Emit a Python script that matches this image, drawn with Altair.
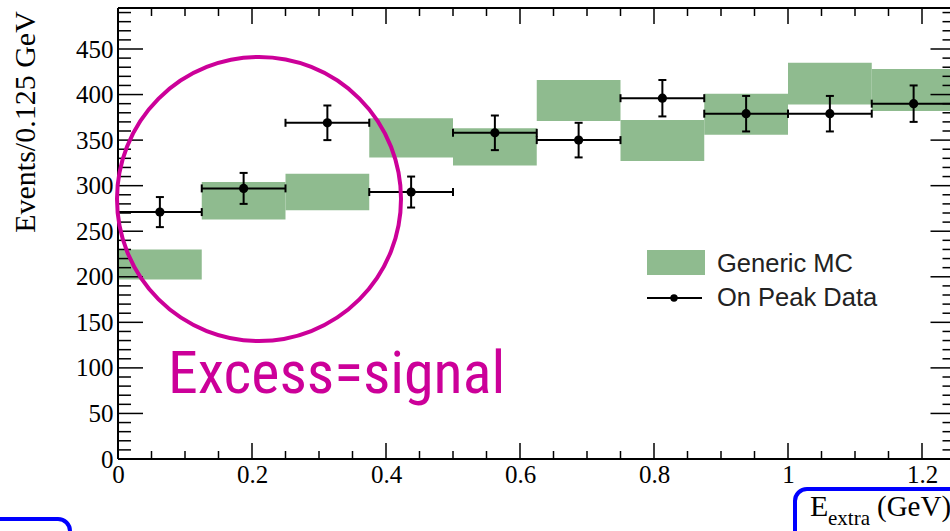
import altair as alt
import pandas as pd

# ---- data ----
bin_lo = [0.0, 0.125, 0.25, 0.375, 0.5, 0.625, 0.75, 0.875, 1.0, 1.125]
bin_hi = [0.125, 0.25, 0.375, 0.5, 0.625, 0.75, 0.875, 1.0, 1.125, 1.25]
mc_low = [197, 263, 273, 331, 322, 371, 327, 356, 389, 382]
mc_high = [230, 304, 313, 374, 363, 416, 372, 401, 435, 428]
data_val = [271, 297, 369, 293, 358, 350, 396, 379, 379, 390]
data_err = [16.5, 17, 19, 17, 19, 19, 20, 19.5, 19.5, 20]

x_major = [0, 0.2, 0.4, 0.6, 0.8, 1.0, 1.2]
x_minor = [0.05, 0.1, 0.15, 0.25, 0.3, 0.35, 0.45, 0.5, 0.55, 0.65, 0.7, 0.75,
           0.85, 0.9, 0.95, 1.05, 1.1, 1.15]
y_major = [0, 50, 100, 150, 200, 250, 300, 350, 400, 450]
y_minor = [v for v in range(0, 500, 10) if v % 50 != 0]

# ---- layout ----
W = 832          # visible plot width (frame continues past window edge)
H = 451
PX_PER_UNIT = 670.0
X_MAX = W / PX_PER_UNIT
FRAME_R = 1.25 * PX_PER_UNIT
Y_MAX = 495

GREEN = "#8fbb8f"
MAGENTA = "#cc0099"
BLUE = "#0000ff"
SERIF = "Liberation Serif"

df = pd.DataFrame({
    "lo": bin_lo, "hi": bin_hi,
    "mc_lo": mc_low, "mc_hi": mc_high,
    "val": data_val, "err": data_err,
})
df["c"] = (df["lo"] + df["hi"]) / 2
df["elo"] = df["val"] - df["err"]
df["ehi"] = df["val"] + df["err"]

xs = alt.Scale(domain=[0, X_MAX], nice=False, zero=False)
ys = alt.Scale(domain=[0, Y_MAX], nice=False, zero=False)

x_axis = alt.Axis(values=x_major, format="~g", ticks=False, domain=False, grid=False,
                  title=None, labelFont=SERIF, labelFontSize=25, labelColor="black",
                  labelPadding=3, labelFlush=False)
y_axis = alt.Axis(values=y_major, ticks=False, domain=False, grid=False, title=None,
                  labelFont=SERIF, labelFontSize=25, labelColor="black",
                  labelPadding=5, labelFlush=False)

def X(f):
    return alt.X(f, scale=xs, axis=x_axis)

def Y(f):
    return alt.Y(f, scale=ys, axis=y_axis)

base = alt.Chart(df)

mc = base.mark_rect(color=GREEN, opacity=1).encode(
    x=X("lo:Q"), x2="hi:Q", y=Y("mc_lo:Q"), y2="mc_hi:Q")

vbar = base.mark_rule(color="black", strokeWidth=2).encode(
    x=X("c:Q"), y=Y("elo:Q"), y2="ehi:Q")
hbar = base.mark_rule(color="black", strokeWidth=2).encode(
    x=X("lo:Q"), x2="hi:Q", y=Y("val:Q"))
cap_lo = base.mark_tick(orient="horizontal", size=8, thickness=2, color="black", opacity=1).encode(
    x=X("c:Q"), y=Y("elo:Q"))
cap_hi = base.mark_tick(orient="horizontal", size=8, thickness=2, color="black", opacity=1).encode(
    x=X("c:Q"), y=Y("ehi:Q"))
cap_l = base.mark_tick(orient="vertical", size=8, thickness=2, color="black", opacity=1).encode(
    x=X("lo:Q"), y=Y("val:Q"))
cap_r = base.mark_tick(orient="vertical", size=8, thickness=2, color="black", opacity=1).encode(
    x=X("hi:Q"), y=Y("val:Q"))
pts = base.mark_circle(size=85, color="black", opacity=1).encode(
    x=X("c:Q"), y=Y("val:Q"))

# ---- inward ticks on all four sides ----
ymaj = alt.Chart(pd.DataFrame({"v": y_major}))
ymin = alt.Chart(pd.DataFrame({"v": y_minor}))
xmaj = alt.Chart(pd.DataFrame({"v": x_major}))
xmin = alt.Chart(pd.DataFrame({"v": x_minor}))

def yticks(src, length):
    left = src.mark_rule(color="black", strokeWidth=1.5).encode(
        y=Y("v:Q"), x=alt.value(0), x2=alt.value(length))
    right = src.mark_rule(color="black", strokeWidth=1.5).encode(
        y=Y("v:Q"), x=alt.value(FRAME_R - length), x2=alt.value(FRAME_R))
    return [left, right]

def xticks(src, length):
    bottom = src.mark_rule(color="black", strokeWidth=1.5).encode(
        x=X("v:Q"), y=alt.value(H), y2=alt.value(H - length))
    top = src.mark_rule(color="black", strokeWidth=1.5).encode(
        x=X("v:Q"), y=alt.value(0), y2=alt.value(length))
    return [bottom, top]

one = alt.Chart(pd.DataFrame({"d": [0]}))

frame = [
    one.mark_rule(color="black", strokeWidth=2).encode(x=alt.value(0), y=alt.value(0), y2=alt.value(H)),
    one.mark_rule(color="black", strokeWidth=2).encode(x=alt.value(0), x2=alt.value(FRAME_R), y=alt.value(0)),
    one.mark_rule(color="black", strokeWidth=2).encode(x=alt.value(0), x2=alt.value(FRAME_R), y=alt.value(H)),
]

# ---- legend ----
legend = [
    one.mark_rect(color=GREEN, opacity=1).encode(
        x=alt.value(529), x2=alt.value(587), y=alt.value(242), y2=alt.value(267)),
    one.mark_rule(color="black", strokeWidth=2).encode(
        x=alt.value(529), x2=alt.value(584), y=alt.value(290)),
    one.mark_circle(size=55, color="black", opacity=1).encode(
        x=alt.value(556), y=alt.value(290)),
    one.mark_text(text="Generic MC", font="Liberation Sans", fontSize=25.5, color="#222222",
                  align="left", baseline="middle").encode(x=alt.value(599), y=alt.value(256)),
    one.mark_text(text="On Peak Data", font="Liberation Sans", fontSize=25.5, color="#222222",
                  align="left", baseline="middle").encode(x=alt.value(599), y=alt.value(290)),
]

# ---- axis titles ----
titles = [
    one.mark_text(text="Events/0.125 GeV", font=SERIF, fontSize=30, angle=270,
                  align="center", baseline="alphabetic", color="black").encode(
        x=alt.value(-83), y=alt.value(114)),
    one.mark_text(text="E", font=SERIF, fontSize=30, align="left", baseline="alphabetic",
                  color="black").encode(x=alt.value(692), y=alt.value(508)),
    one.mark_text(text="extra", font=SERIF, fontSize=21, align="left", baseline="alphabetic",
                  color="black").encode(x=alt.value(710), y=alt.value(517)),
    one.mark_text(text="(GeV)", font=SERIF, fontSize=29, align="left", baseline="alphabetic",
                  color="black").encode(x=alt.value(759), y=alt.value(508)),
]

# ---- annotations ----
annot = [
    one.mark_point(shape="circle", size=284 * 284, filled=False, color=MAGENTA,
                   strokeWidth=4, opacity=1).encode(x=alt.value(141), y=alt.value(191)),
    one.mark_text(text="Excess=signal",
                  font="Roboto Condensed, Liberation Sans Narrow, DejaVu Sans Condensed, sans-serif",
                  fontSize=60, color=MAGENTA, align="left", baseline="alphabetic").encode(
        x=alt.value(50), y=alt.value(385)),
    one.mark_rect(fillOpacity=0, stroke=BLUE, strokeWidth=4, cornerRadius=12).encode(
        x=alt.value(677), x2=alt.value(900), y=alt.value(481), y2=alt.value(580)),
    one.mark_rect(fillOpacity=0, stroke=BLUE, strokeWidth=4, cornerRadius=12).encode(
        x=alt.value(-250), x2=alt.value(-48), y=alt.value(511), y2=alt.value(580)),
]

layers = [mc, hbar, vbar, cap_lo, cap_hi, cap_l, cap_r, pts]
layers += yticks(ymaj, 25) + yticks(ymin, 13) + xticks(xmaj, 16) + xticks(xmin, 8)
layers += frame + legend + titles + annot

chart = alt.layer(*layers).properties(
    width=W, height=H,
    autosize=alt.AutoSizeParams(type="none"),
    padding={"left": 118, "top": 8, "right": 0, "bottom": 72},
    background="white",
).configure_view(stroke=None)

chart.save("out.html", embed_options={"renderer": "svg", "actions": False})
